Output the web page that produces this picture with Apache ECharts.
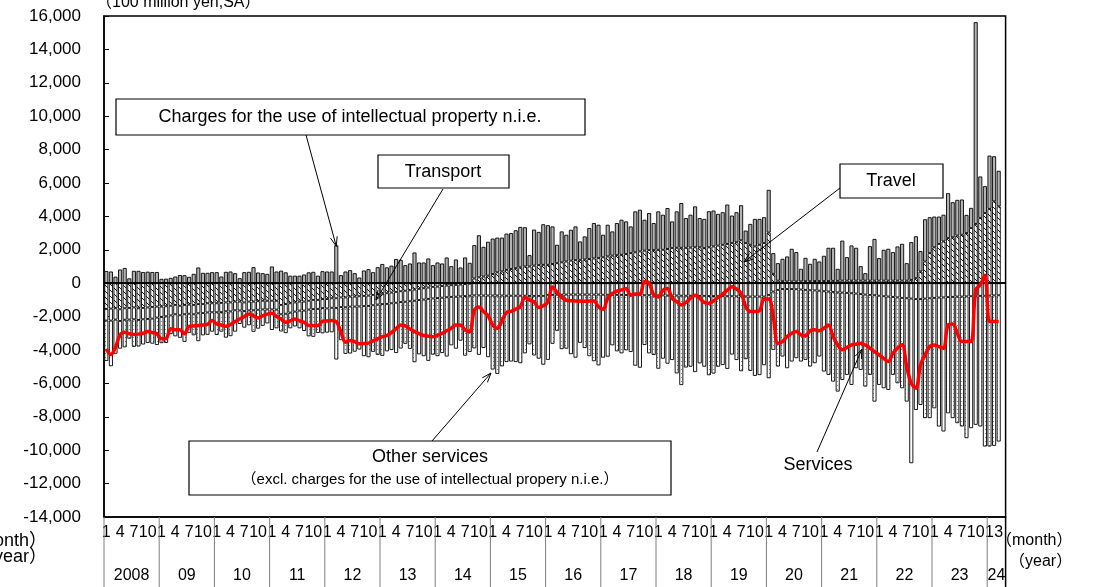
<!DOCTYPE html>
<html><head><meta charset="utf-8">
<script src="https://cdn.jsdelivr.net/npm/echarts@6/dist/echarts.min.js"></script>
<style>html,body{margin:0;padding:0;background:#fff}#c{width:1093px;height:587px}</style>
</head><body><div id="c"></div>
<script>
const yearLabels = ['2008','09','10','11','12','13','14','15','16','17','18','19','20','21','22','23','24'];
const monthTicks = [1,4,7,10];
// Charges for the use of intellectual property n.i.e. (100 million yen, SA), Jan 2008 - Mar 2024
const ip = [
730,700,390,820,910,290,740,740,670,690,670,670,
260,270,320,400,490,480,380,560,940,620,620,660,
660,400,680,700,600,300,660,680,960,640,600,560,
1000,700,750,650,450,450,450,520,650,680,450,720,
700,700,2270,480,700,780,600,340,760,840,660,960,
1150,950,1050,1450,1400,1080,1180,1840,1240,1240,1480,1080,
1240,1180,1540,1020,1420,940,1540,1220,2000,2520,1780,2030,
2120,2080,2030,2170,2150,2270,2420,2350,680,2160,1990,2430,
2370,2250,1100,1850,1600,1850,2020,1100,1380,1850,2120,2000,
1350,1900,1450,1920,2100,1950,1600,2450,2500,1850,2220,1620,
2300,2100,2450,1600,2180,2680,1780,1970,2450,1750,1750,2160,
2150,1900,1950,2360,1650,1800,2100,750,1250,1650,1550,1550,
2560,1240,1050,1340,1500,1960,1760,750,1400,1040,1330,1170,
1510,1990,1980,720,2400,1410,2110,1970,870,450,2070,2500,
1350,1850,1910,1710,2050,2210,1050,2260,2510,1220,2530,2150,
1840,1640,1600,2690,2100,2140,2110,1090,1210,12080,2490,1610,
3190,2700,2130
];
const travel = [
-1540,-1520,-1500,-1560,-1500,-1480,-1450,-1500,-1480,-1450,-1420,-1400,
-1400,-1380,-1350,-1300,-1350,-1300,-1280,-1300,-1250,-1250,-1200,-1200,
-1200,-1180,-1150,-1150,-1100,-1100,-1150,-1100,-1100,-1080,-1050,-1050,
-1050,-1050,-1300,-1250,-1200,-1150,-1100,-1100,-1050,-1000,-1000,-950,
-950,-900,-900,-850,-850,-800,-800,-780,-760,-740,-700,-650,
-620,-600,-560,-520,-480,-450,-420,-380,-340,-300,-260,-220,
-200,-170,-140,-120,-100,-80,-50,-30,280,350,400,450,
550,650,700,800,850,900,950,1000,1000,1050,1080,1100,
1100,1150,1200,1250,1300,1350,1380,1400,1420,1450,1480,1500,
1550,1600,1650,1680,1700,1750,1800,1850,1900,1950,1980,1980,
2000,2000,2050,2100,2120,2120,2120,2130,2150,2150,2100,2150,
2200,2250,2300,2350,2400,2450,2570,2400,2300,2200,2300,2400,
3030,560,150,120,100,100,100,110,120,120,130,130,
130,130,140,140,150,150,150,150,150,150,150,150,
150,150,150,150,150,150,150,200,300,700,1300,1800,
2150,2350,2500,2700,2750,2850,2900,3000,3300,3550,3900,4200,
4450,4900,4600
];
const transport = [
-700,-720,-680,-700,-690,-700,-710,-700,-680,-690,-700,-660,
-620,-600,-580,-560,-570,-560,-550,-560,-550,-540,-550,-540,
-540,-550,-530,-540,-520,-530,-520,-530,-520,-510,-520,-520,
-520,-530,-560,-580,-560,-550,-540,-540,-530,-550,-540,-540,
-560,-570,-580,-580,-590,-600,-600,-610,-610,-620,-620,-630,
-630,-640,-640,-650,-650,-660,-660,-670,-670,-680,-680,-690,
-690,-700,-700,-700,-710,-710,-720,-720,-730,-730,-740,-740,
-740,-740,-740,-750,-750,-750,-750,-750,-760,-760,-760,-760,
-700,-700,-690,-690,-680,-680,-680,-680,-680,-680,-680,-680,
-690,-690,-700,-700,-700,-710,-710,-710,-720,-720,-720,-730,
-730,-730,-740,-740,-740,-750,-750,-750,-760,-760,-760,-770,
-770,-770,-780,-780,-780,-790,-790,-790,-800,-800,-800,-800,
-700,-500,-400,-350,-350,-350,-360,-380,-400,-420,-430,-450,
-480,-500,-520,-550,-560,-580,-600,-620,-650,-680,-700,-720,
-750,-780,-800,-820,-850,-880,-900,-920,-950,-950,-920,-900,
-880,-860,-850,-830,-820,-800,-800,-790,-780,-770,-760,-750,
-740,-730,-720
];
// Other services (excl. charges for the use of intellectual property n.i.e.)
const other = [
-2420,-2730,-2040,-1660,-1650,-1140,-1650,-1590,-1510,-1440,-1500,-1640,
-1570,-1600,-1120,-1320,-1350,-1650,-1140,-1260,-1670,-1330,-1340,-1160,
-1360,-1170,-1580,-1480,-1280,-810,-990,-890,-1290,-1130,-980,-840,
-1230,-1120,-1030,-1160,-940,-890,-1060,-1220,-1600,-1660,-1440,-1510,
-1450,-1470,-3090,-1980,-2790,-2810,-2700,-2580,-3000,-3070,-2790,-3010,
-3100,-2840,-2800,-3010,-2780,-2520,-2850,-3680,-3250,-3390,-3710,-3370,
-3480,-3310,-3550,-2900,-3110,-2650,-3570,-3370,-3170,-3560,-3140,-3690,
-4430,-4690,-4240,-3970,-3940,-3970,-4040,-3450,-2900,-3570,-3760,-4120,
-3890,-2930,-2160,-3260,-3240,-3570,-3780,-2890,-3200,-3690,-3990,-4240,
-3770,-3710,-3020,-3380,-3500,-3310,-3410,-4230,-4340,-2980,-3480,-3570,
-4390,-3790,-4080,-3860,-4660,-5350,-4300,-4250,-4560,-4040,-4240,-4740,
-4640,-4230,-4120,-4350,-3490,-3810,-4480,-3760,-4450,-4750,-4700,-4110,
-4990,-3490,-4590,-4040,-4740,-4340,-4130,-4310,-4190,-4570,-4360,-3940,
-4810,-4990,-5370,-5940,-5230,-4910,-5490,-4470,-4540,-5510,-4790,-6370,
-5340,-5510,-5590,-4670,-5140,-5410,-6190,-9860,-6640,-6340,-7160,-7180,
-6610,-7720,-8030,-6960,-7260,-7580,-7780,-8490,-7900,-7710,-7820,-9030,
-9040,-9010,-8760
];
const services = [
-3930,-4270,-3830,-3100,-2930,-3030,-3070,-3050,-3000,-2890,-2950,-3030,
-3330,-3310,-2730,-2780,-2780,-3030,-2590,-2560,-2530,-2500,-2470,-2240,
-2440,-2500,-2580,-2470,-2300,-2140,-2000,-1840,-1950,-2080,-1950,-1850,
-1800,-2000,-2140,-2340,-2250,-2140,-2250,-2340,-2530,-2530,-2530,-2280,
-2260,-2240,-2300,-2930,-3530,-3430,-3500,-3630,-3610,-3590,-3450,-3330,
-3200,-3130,-2950,-2730,-2510,-2550,-2750,-2890,-3020,-3130,-3170,-3200,
-3130,-3000,-2850,-2700,-2500,-2500,-2800,-2900,-1620,-1420,-1700,-1950,
-2500,-2700,-2250,-1750,-1690,-1550,-1420,-850,-1000,-1120,-1450,-1350,
-1120,-230,-550,-850,-1020,-1050,-1060,-1070,-1080,-1070,-1070,-1420,
-1560,-900,-620,-480,-400,-320,-720,-640,-660,100,0,-700,
-820,-420,-320,-900,-1100,-1300,-1150,-900,-720,-900,-1150,-1200,
-1060,-850,-650,-420,-220,-350,-600,-1400,-1700,-1700,-1650,-960,
-950,-2000,-3600,-3500,-3190,-3000,-2890,-3100,-3150,-2850,-2790,-2850,
-2700,-2500,-3200,-3700,-3990,-3850,-3690,-3650,-3600,-3700,-3890,-4100,
-4290,-4500,-4690,-4200,-3900,-3690,-5000,-6000,-6290,-4900,-4300,-3790,
-3700,-3800,-3900,-2500,-2450,-3000,-3490,-3490,-3490,-400,-100,480,
-2300,-2300,-2300
];

const N = services.length;              // 195 months, Jan 2008 .. Mar 2024
const categories = [];
for (let i = 0; i < N; i++) categories.push(String(i % 12 + 1));
categories.push('');                    // spare slot after Mar 2024, as on the original axis

function hatchPattern() {
  const c = document.createElement('canvas'); c.width = 6; c.height = 6;
  const g = c.getContext('2d');
  g.fillStyle = '#fff'; g.fillRect(0, 0, 6, 6);
  g.strokeStyle = '#000'; g.lineWidth = 0.9;
  g.beginPath();
  g.moveTo(0, 0); g.lineTo(6, 6);
  g.moveTo(-3, 3); g.lineTo(3, 9);
  g.moveTo(3, -3); g.lineTo(9, 3);
  g.stroke();
  return c;
}
function dotPattern() {
  const c = document.createElement('canvas'); c.width = 4; c.height = 4;
  const g = c.getContext('2d');
  g.fillStyle = '#fff'; g.fillRect(0, 0, 4, 4);
  g.fillStyle = '#8c8c8c'; g.fillRect(1, 1, 1, 1);
  return c;
}

const chart = echarts.init(document.getElementById('c'), null, {renderer: 'canvas'});
const FONT = '"Liberation Sans", Arial, "Noto Sans CJK JP", sans-serif';
const barCommon = {type: 'bar', stack: 'svc', barCategoryGap: '12%', animation: false};
const bord = {borderColor: '#000', borderWidth: 0.9};

chart.setOption({
  animation: false,
  grid: {left: 104, top: 16, width: 901.6, height: 501, show: true, borderColor: '#000', borderWidth: 1.5, backgroundColor: 'transparent'},
  xAxis: {
    type: 'category', data: categories, boundaryGap: true,
    axisLine: {show: true, onZero: false, lineStyle: {color: '#000', width: 1.5}},
    axisTick: {show: false},
    axisLabel: {
      interval: 0, color: '#000', fontSize: 16, fontFamily: FONT, margin: 8,
      formatter: function (v, i) {
        if (i === N - 1) return '3';
        return monthTicks.indexOf(Number(v)) >= 0 ? v : '';
      }
    }
  },
  yAxis: {
    type: 'value', min: -14000, max: 16000, interval: 2000,
    axisLine: {show: true, lineStyle: {color: '#000', width: 1.5}},
    axisTick: {show: true, inside: true, length: 5, lineStyle: {color: '#000'}},
    splitLine: {show: false},
    axisLabel: {color: '#000', fontSize: 17, fontFamily: FONT, margin: 23,
      formatter: v => (v < 0 ? '-' : '') + Math.abs(v).toLocaleString('en-US')}
  },
  series: [
    Object.assign({}, barCommon, {name: 'Travel', data: travel,
      itemStyle: Object.assign({color: {image: hatchPattern(), repeat: 'repeat'}}, bord)}),
    Object.assign({}, barCommon, {name: 'Charges for the use of intellectual property n.i.e.', data: ip,
      itemStyle: Object.assign({color: '#b4b4b4'}, bord)}),
    Object.assign({}, barCommon, {name: 'Transport', data: transport,
      itemStyle: Object.assign({color: '#ffffff'}, bord)}),
    Object.assign({}, barCommon, {name: 'Other services', data: other,
      itemStyle: Object.assign({color: {image: dotPattern(), repeat: 'repeat'}}, bord)}),
    {type: 'line', name: 'Services', data: services, smooth: 0.35, showSymbol: false, z: 5,
      lineStyle: {color: '#ff0000', width: 3.5}, animation: false,
      markLine: {silent: true, symbol: 'none', label: {show: false},
        lineStyle: {color: '#000', width: 1.8, type: 'solid'}, data: [{yAxis: 0}]}}
  ]
});

// ---------- annotations, year row, separators ----------
const px = (i, v) => chart.convertToPixel({xAxisIndex: 0, yAxisIndex: 0}, [i, v]);
const bw = 901.6 / categories.length;
const left = 104, bottomY = 517, imgBottom = 587;
const g = [];
function text(x, y, s, opt) {
  g.push({type: 'text', x: x, y: y, silent: true, z: 100,
    style: Object.assign({text: s, fill: '#000', font: '16px ' + FONT, align: 'center', verticalAlign: 'middle'}, opt || {})});
}
function line(x1, y1, x2, y2, col, w) {
  g.push({type: 'line', silent: true, z: 100, shape: {x1, y1, x2, y2}, style: {stroke: col || '#000', lineWidth: w || 1}});
}
function arrow(x1, y1, x2, y2) {
  line(x1, y1, x2, y2, '#000', 1);
  const a = Math.atan2(y2 - y1, x2 - x1), L = 10, s = 0.35;
  line(x2, y2, x2 - L * Math.cos(a - s), y2 - L * Math.sin(a - s));
  line(x2, y2, x2 - L * Math.cos(a + s), y2 - L * Math.sin(a + s));
}
function box(x, y, w, h) {
  g.push({type: 'rect', silent: true, z: 99, shape: {x, y, width: w, height: h}, style: {fill: '#fff', stroke: '#000', lineWidth: 1.2}});
}
// year separators and labels
for (let k = 0; k < yearLabels.length; k++) {
  const x = px(k * 12, 0)[0] - bw / 2;
  line(x, bottomY, x, imgBottom, '#7f7f7f', 1);
}
const rightX = left + 901.6;
line(rightX, bottomY, rightX, imgBottom, '#000', 1.5);
for (let k = 0; k < yearLabels.length; k++) {
  const a = px(k * 12, 0)[0] - bw / 2;
  const b = (k === yearLabels.length - 1) ? rightX : px((k + 1) * 12, 0)[0] - bw / 2;
  text((a + b) / 2, 576, yearLabels[k]);
}
text(996, 541, '（month）', {align: 'left'});
text(1009, 562, '（year）', {align: 'left'});
text(47, 541, '（month）', {align: 'right', font: '18px ' + FONT});
text(47, 557, '（year）', {align: 'right', font: '18px ' + FONT});
text(96, 3, '（100 million yen,SA）', {align: 'left'});

const AF = '18px ' + FONT;
// annotation boxes
box(116, 99, 469, 36);
text(350, 117, 'Charges for the use of intellectual property n.i.e.', {font: AF});
const tIP = px(50, ip[50]);
arrow(306, 135, tIP[0], tIP[1] + 1);

box(378, 155, 131, 33);
text(443, 172, 'Transport', {font: AF});
arrow(443, 189, 376, 300);

box(840, 164, 103, 34);
text(891, 181, 'Travel', {font: AF});
arrow(840, 188, 744, 262);

box(189, 441, 482, 54);
text(430, 457, 'Other services', {font: AF});
text(430, 480, '（excl. charges for the use of intellectual propery n.i.e.）', {font: '15px ' + FONT});
arrow(432, 441, 491, 373);

text(818, 465, 'Services', {font: AF});
arrow(817, 452, 862, 349);

chart.setOption({graphic: {elements: g}});
</script>
</body></html>
